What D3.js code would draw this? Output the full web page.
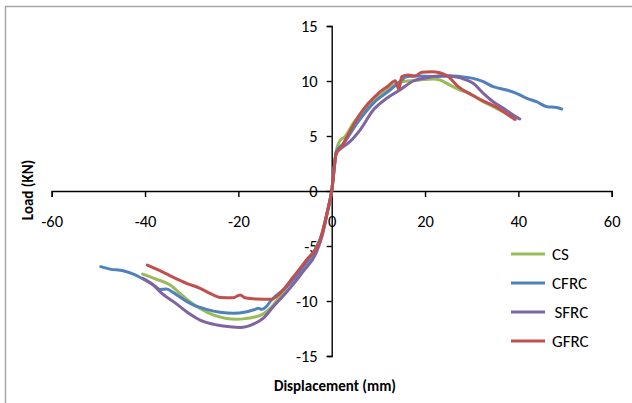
<!DOCTYPE html>
<html>
<head>
<meta charset="utf-8">
<script src="https://cdn.jsdelivr.net/npm/d3@7"></script>
<style>
  body { margin: 0; background: #fff; }
  svg text { font-family: Carlito, Calibri, Lato, sans-serif; fill: #000; }
</style>
</head>
<body>
<div id="chart"></div>
<script>
// data (displacement mm, load kN)
var seriesNames = ['CS', 'CFRC', 'SFRC', 'GFRC'];
var seriesColors = ['#9bbb59', '#4f81bd', '#8064a2', '#c0504d'];
var xTicks = [-60, -40, -20, 0, 20, 40, 60];
var yTicks = [-15, -10, -5, 0, 5, 10, 15];

var csData = [[-40.5,-7.55],[-37.5,-8.03],[-34.6,-8.55],[-32.5,-9.3],[-30.4,-10.06],[-28.2,-10.67],
  [-25.4,-11.27],[-22.5,-11.6],[-20.4,-11.67],[-18.5,-11.6],[-16.8,-11.48],[-14.7,-11.18],[-13.2,-10.67],
  [-11.1,-9.6],[-9.6,-8.7],[-6.1,-6.9],[-3.2,-5.06],[-2,-3.8],[-1,-2],[0,0],[1,3.7],[1.8,4.6],[2.85,4.94],
  [4.6,6.15],[7.5,7.66],[11,8.88],[13.9,9.79],[16.1,10.0],[18.9,10.1],[21.8,10.18],[23.2,10.09],[25.3,9.64],
  [27.5,9.18],[29.6,8.88],[31.8,8.27],[34.6,7.66],[37.5,7.06],[40,6.6]];

var cfrcData = [[-49.5,-6.88],[-47.5,-7.1],[-44.7,-7.25],[-42.5,-7.55],[-40.4,-8.0],[-38.2,-8.55],[-36.8,-8.95],
  [-35.4,-8.92],[-33.9,-9.24],[-31.8,-9.85],[-29.7,-10.36],[-26.8,-10.76],[-23.9,-11.02],[-21.1,-11.12],
  [-18.2,-10.97],[-16.4,-10.76],[-15.7,-10.67],[-15.0,-10.76],[-13.9,-10.45],[-12.9,-9.9],[-9.6,-8.7],
  [-6.1,-6.9],[-3.2,-5.06],[-2,-3.8],[-1,-2],[0,0],[1,3.6],[2.5,4.3],[5.4,6.15],[8.9,7.97],[12.5,9.18],
  [14.6,9.94],[16.1,10.4],[18.2,10.45],[21.8,10.4],[25.3,10.48],[27.5,10.4],[30.3,10.24],[32.5,9.94],
  [34.6,9.48],[37.5,9.18],[39.6,8.88],[41.8,8.43],[43.9,8.12],[46.1,7.66],[48.2,7.6],[49.3,7.45]];

var sfrcData = [[-40.5,-7.94],[-38.2,-8.55],[-36.4,-9.3],[-33.9,-10.06],[-31.1,-10.97],[-28.2,-11.73],
  [-24.6,-12.18],[-21.8,-12.35],[-19.6,-12.4],[-16.8,-12.1],[-14.7,-11.58],[-12.5,-10.5],[-9.6,-9.15],
  [-6.1,-7.3],[-3.2,-5.5],[-2,-4.0],[-1,-2.1],[0,0],[1,3.5],[2.5,4.03],[3.9,4.48],[6.1,5.55],[8.9,7.36],
  [11.8,8.43],[14.6,9.18],[17.5,10.0],[20.4,10.3],[23.2,10.48],[26.1,10.4],[28.9,10.09],[30.3,9.79],
  [32.5,8.88],[34.6,8.12],[36.8,7.52],[38.9,6.9],[40.3,6.55]];

var gfrcData = [[-39.5,-6.73],[-36.8,-7.24],[-33.9,-7.85],[-31.1,-8.39],[-28.2,-8.85],[-26.1,-9.3],
  [-23.9,-9.68],[-21.1,-9.7],[-19.6,-9.45],[-18.6,-9.7],[-16.1,-9.82],[-12.9,-9.85],[-11.1,-9.3],
  [-8.2,-7.8],[-5.4,-6.27],[-2.5,-4.45],[-1,-2],[0,0],[1,3.4],[2.1,4.0],[2.85,4.6],[5.7,6.75],[7.85,7.97],
  [10,8.88],[12.1,9.55],[13.6,10.03],[14.4,9.24],[15,10.4],[16.4,10.55],[17.8,10.45],[19.3,10.79],
  [21.4,10.85],[23.2,10.75],[25,10.4],[27.1,9.48],[30,8.73],[32.8,8.12],[35.7,7.52],[37.8,6.9],[39.3,6.5]];

var allSeries = [csData, cfrcData, sfrcData, gfrcData];

var width = 632, height = 403;

var svg = d3.select('#chart').append('svg')
  .attr('width', width)
  .attr('height', height);

// chart border (only top/left visible in the picture)
svg.append('rect')
  .attr('x', 5.5).attr('y', 6.5)
  .attr('width', 700).attr('height', 500)
  .attr('fill', 'none')
  .attr('stroke', '#a6a6a6')
  .attr('stroke-width', 1.5);

var x = d3.scaleLinear().domain([-60, 60]).range([51.7, 611.7]);
var y = d3.scaleLinear().domain([-15, 15]).range([356, 26]);

// plain hyphen for negatives, like the original
var fmt = function(d) { return String(d); };

// x axis through y = 0
var xAxis = svg.append('g')
  .attr('transform', 'translate(0,' + y(0) + ')')
  .call(d3.axisBottom(x).tickValues(xTicks).tickFormat(fmt).tickSize(6).tickPadding(18));

// y axis through x = 0
var yAxis = svg.append('g')
  .attr('transform', 'translate(' + x(0) + ',0)')
  .call(d3.axisLeft(y).tickValues(yTicks).tickFormat(fmt).tickSize(5).tickPadding(9));

[xAxis, yAxis].forEach(function(g) {
  g.selectAll('path, line').attr('stroke', '#000').attr('stroke-width', 1.4);
  g.selectAll('text').style('font-size', '16.5px').attr('fill', '#000');
});

var line = d3.line()
  .x(function(d) { return x(d[0]); })
  .y(function(d) { return y(d[1]); })
  .curve(d3.curveMonotoneX);

svg.append('g').selectAll('path')
  .data(allSeries)
  .enter().append('path')
    .attr('d', line)
    .attr('fill', 'none')
    .attr('stroke', function(d, i) { return seriesColors[i]; })
    .attr('stroke-width', 3)
    .attr('stroke-linejoin', 'round')
    .attr('stroke-linecap', 'round');

// axis titles
svg.append('text')
  .attr('x', 335).attr('y', 391)
  .attr('text-anchor', 'middle')
  .style('font-size', '15px')
  .style('font-weight', 'bold')
  .text('Displacement (mm)');

svg.append('text')
  .attr('transform', 'translate(33,190) rotate(-90)')
  .attr('text-anchor', 'middle')
  .style('font-size', '15px')
  .style('font-weight', 'bold')
  .text('Load (KN)');

// legend
var legend = svg.append('g').selectAll('g')
  .data(seriesNames)
  .enter().append('g')
    .attr('transform', function(d, i) { return 'translate(511,' + (254 + i * 29) + ')'; });

legend.append('line')
  .attr('x1', 0).attr('x2', 34)
  .attr('stroke', function(d, i) { return seriesColors[i]; })
  .attr('stroke-width', 3);

legend.append('text')
  .attr('x', function(d) { return d === 'SFRC' ? 43.5 : 41; })
  .attr('dy', '0.35em')
  .style('font-size', '17px')
  .text(function(d) { return d; });
</script>
</body>
</html>
